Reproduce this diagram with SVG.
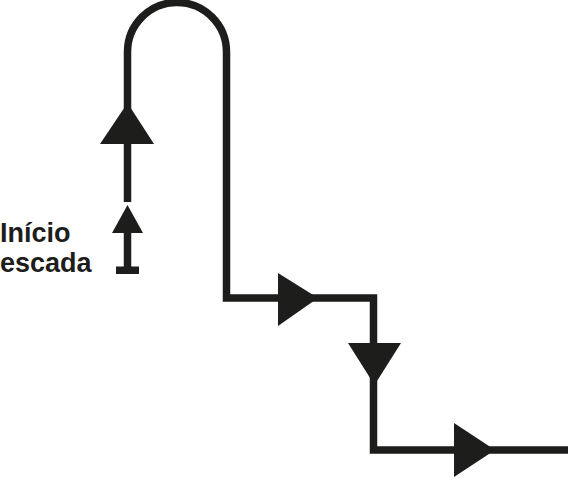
<svg xmlns="http://www.w3.org/2000/svg" width="568" height="478" viewBox="0 0 568 478">
<style>
.ln{fill:none;stroke:#1d1d1b;stroke-width:7.5;stroke-linejoin:miter;stroke-linecap:butt}
.ah{fill:#1d1d1b}
.lb{font-family:"Liberation Sans",Arial,sans-serif;font-weight:bold;font-size:27px;fill:#1d1d1b}
</style>
<rect width="568" height="478" fill="#fff"/>
<g id="label">
<text class="lb" x="0" y="242">Início</text>
<text class="lb" x="0" y="272">escada</text>
</g>
<g id="start">
<rect x="116" y="266.5" width="23" height="7.5" class="ah"/>
</g>
<g id="connectors">
<path class="ln" d="M127.5 268 V233"/>
<polygon class="ah" points="127.5,205 112,233 143,233"/>
<path class="ln" d="M127.5 202 V140 V52 A49 49 0 0 1 226.5 52 V298 H373.5 V450 H568"/>
<polygon class="ah" points="127.5,103 100,144 154,144"/>
<polygon class="ah" points="318,298 278,273 278,326"/>
<polygon class="ah" points="374.5,385 348,343 401,343"/>
<polygon class="ah" points="495,450 454,423 454,477"/>
</g>
</svg>
